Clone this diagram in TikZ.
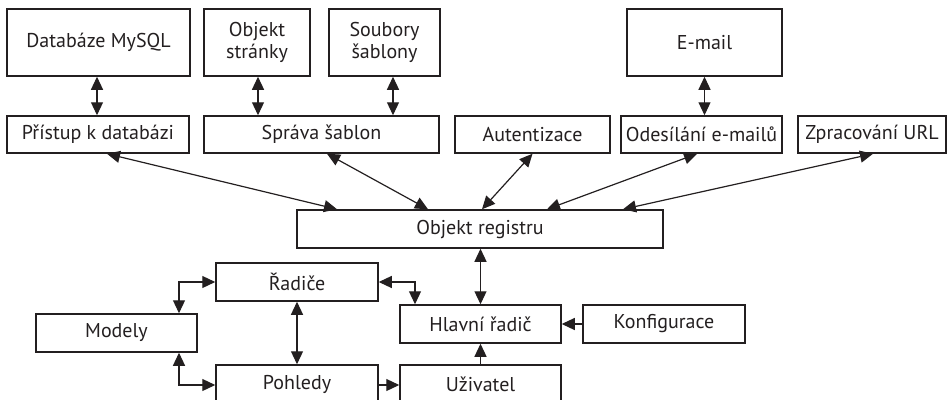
\documentclass[tikz,border=0pt]{standalone}
\usepackage{fontspec}
\setmainfont{PT Sans}
\usetikzlibrary{arrows.meta,calc}
\definecolor{ink}{HTML}{231F20}
\begin{document}
\begin{tikzpicture}[x=1pt,y=-1pt,
  box/.style={draw=ink,line width=1.5pt,rectangle,inner sep=0pt,align=center,
    font=\fontsize{20}{22}\selectfont,text=ink},
  tip/.tip={Triangle[length=13pt,width=12pt]},
  conn/.style={draw=ink,line width=1.2pt,tip-tip},
  oneway/.style={draw=ink,line width=1.2pt,-tip}]
\useasboundingbox (0,0) rectangle (949,399);
\clip (0,0) rectangle (949,399);
% top row
\node[box,minimum width=183pt,minimum height=67pt] (db) at (98.5,42.5) {Databáze MySQL};
\node[box,minimum width=106pt,minimum height=67pt] (obj) at (257,42.5) {Objekt\\stránky};
\node[box,minimum width=111pt,minimum height=67pt] (soub) at (384.5,42.5) {Soubory\\šablony};
\node[box,minimum width=155pt,minimum height=67pt] (email) at (704.5,42.5) {E-mail};
% second row
\node[box,minimum width=182pt,minimum height=37pt] (pristup) at (98,134.5) {Přístup k databázi};
\node[box,minimum width=235pt,minimum height=37pt] (sprava) at (321.5,134.5) {Správa šablon};
\node[box,minimum width=155pt,minimum height=37pt] (autent) at (532.5,134.5) {Autentizace};
\node[box,minimum width=161pt,minimum height=37pt] (odes) at (701.5,134.5) {Odesílání e-mailů};
\node[box,minimum width=148pt,minimum height=37pt] (zprac) at (872,134.5) {Zpracování URL};
% registry
\node[box,minimum width=366pt,minimum height=38pt] (reg) at (480,229) {Objekt registru};
% lower part
\node[box,minimum width=162pt,minimum height=38pt] (radice) at (297,282) {Řadiče};
\node[box,minimum width=161pt,minimum height=38pt] (modely) at (116.5,333) {Modely};
\node[box,minimum width=161pt,minimum height=38pt] (hlavni) at (480.5,324) {Hlavní řadič};
\node[box,minimum width=162pt,minimum height=38pt] (konf) at (664,324) {Konfigurace};
\node[box,minimum width=162pt,minimum height=38pt] (pohledy) at (297,384) {Pohledy};
\node[box,minimum width=161pt,minimum height=38pt] (uziv) at (480.5,384) {Uživatel};
% vertical connectors top
\draw[conn] ([xshift=-1.5pt]db.south) -- ([xshift=-1.5pt]db.south |- pristup.north);
\draw[conn] ([xshift=1pt]obj.south) -- ([xshift=1pt]obj.south |- sprava.north);
\draw[conn] ([xshift=8.5pt]soub.south) -- ([xshift=8.5pt]soub.south |- sprava.north);
\draw[conn] (email.south) -- (email.south |- odes.north);
% diagonal connectors to registry
\draw[conn] ([xshift=9pt]pristup.south) -- ([xshift=-143pt]reg.north);
\draw[conn] ([xshift=5.5pt]sprava.south) -- ([xshift=-52pt]reg.north);
\draw[conn] (autent.south) -- ([xshift=2pt]reg.north);
\draw[conn] ([xshift=-4.5pt]odes.south) -- ([xshift=67pt]reg.north);
\draw[conn] ([xshift=1pt]zprac.south) -- ([xshift=143pt]reg.north);
% lower connectors
\draw[conn] (hlavni.north |- reg.south) -- (hlavni.north);
\draw[conn] (radice.east) -| ([xshift=-65.5pt]hlavni.north);
\draw[conn] (radice.west) -| ([xshift=62.5pt]modely.north);
\draw[conn] (radice.south) -- (pohledy.north);
\draw[conn] ([xshift=62.5pt]modely.south) |- ([yshift=-1pt]pohledy.west);
\draw[oneway] ([yshift=-1pt]pohledy.east) -- ([yshift=-1pt]uziv.west);
\draw[oneway] (uziv.north) -- (hlavni.south);
\draw[oneway] (konf.west) -- (hlavni.east);
\end{tikzpicture}
\end{document}
